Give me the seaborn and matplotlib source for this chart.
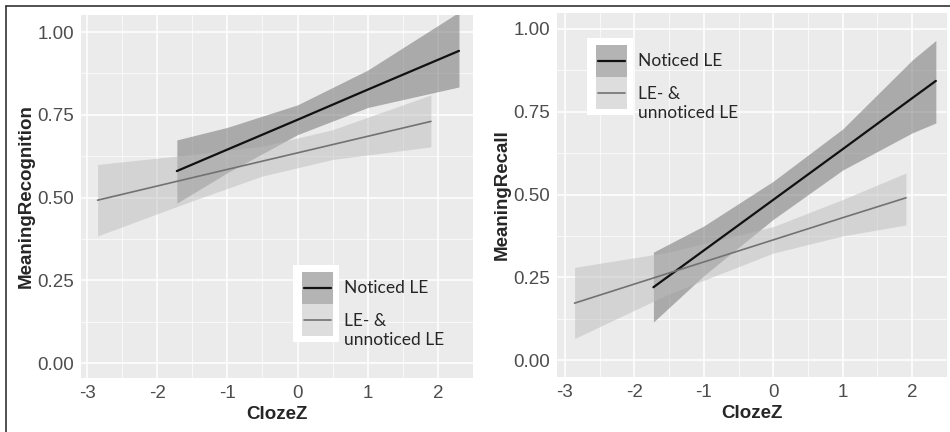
import numpy as np
import pandas as pd
import seaborn as sns
import matplotlib.pyplot as plt
from matplotlib.lines import Line2D
from matplotlib.patches import Rectangle

sns.set_theme(style="darkgrid")
plt.rcParams["font.family"] = ["Liberation Sans", "DejaVu Sans"]
plt.rcParams["axes.unicode_minus"] = False

groups = ["Noticed LE", "LE- &\nunnoticed LE"]

# Meaning recognition (left panel)
rec_noticed_x = [-1.72, -1.0, 0.0, 1.0, 2.30]
rec_noticed_fit = [0.580, 0.645, 0.735, 0.826, 0.943]
rec_noticed_lo = [0.483, 0.575, 0.690, 0.772, 0.834]
rec_noticed_hi = [0.674, 0.712, 0.780, 0.885, 1.060]

rec_other_x = [-2.85, -1.5, -0.5, 0.5, 1.90]
rec_other_fit = [0.492, 0.560, 0.610, 0.660, 0.730]
rec_other_lo = [0.384, 0.490, 0.565, 0.615, 0.653]
rec_other_hi = [0.600, 0.630, 0.655, 0.705, 0.810]

# Meaning recall (right panel)
cal_noticed_x = [-1.725, -1.0, 0.0, 1.0, 2.0, 2.34]
cal_noticed_fit = [0.220, 0.331, 0.484, 0.637, 0.791, 0.843]
cal_noticed_lo = [0.115, 0.255, 0.425, 0.574, 0.686, 0.716]
cal_noticed_hi = [0.326, 0.405, 0.540, 0.698, 0.906, 0.965]

cal_other_x = [-2.86, -1.5, 0.0, 1.0, 1.91]
cal_other_fit = [0.172, 0.263, 0.363, 0.430, 0.490]
cal_other_lo = [0.065, 0.200, 0.323, 0.375, 0.408]
cal_other_hi = [0.280, 0.326, 0.403, 0.485, 0.565]

line_colors = ["#111111", "#727272"]
line_widths = [1.6, 1.2]
band_colors = ["#6a6a6a", "#bdbdbd"]

W, H = 950, 432
fig = plt.figure(figsize=(W / 100, H / 100), dpi=100)
ax1 = fig.add_axes([0.0853, 0.125, 0.4126, 0.840])
ax2 = fig.add_axes([0.5863, 0.1273, 0.4105, 0.8426])


def panel(ax, series, ylabel, xlim, ylim):
    frames = []
    for i, (x, fit, lo, hi) in enumerate(series):
        ax.fill_between(x, lo, hi, color=band_colors[i], alpha=0.5, lw=0, zorder=1)
        frames.append(pd.DataFrame({"ClozeZ": x, "fit": fit, "group": groups[i]}))
    df = pd.concat(frames)
    sns.lineplot(data=df, x="ClozeZ", y="fit", hue="group", palette=line_colors,
                 legend=False, ax=ax, zorder=3)
    for line, lw in zip(ax.lines, line_widths):
        line.set_linewidth(lw)
    ax.set_facecolor("#ebebeb")
    ax.set_xlim(*xlim)
    ax.set_ylim(*ylim)
    ax.set_xticks([-3, -2, -1, 0, 1, 2])
    ax.set_xticks(np.arange(-2.5, 2.6, 1.0), minor=True)
    ax.set_yticks([0, 0.25, 0.5, 0.75, 1.0])
    ax.set_yticklabels(["0.00", "0.25", "0.50", "0.75", "1.00"])
    ax.set_yticks([0.125, 0.375, 0.625, 0.875], minor=True)
    ax.grid(which="major", color="white", linewidth=1.1)
    ax.grid(which="minor", color="white", linewidth=0.5)
    ax.tick_params(which="major", length=3, width=0.8, color="#555555",
                   labelsize=13.5, labelcolor="#4d4d4d", pad=2)
    ax.tick_params(which="minor", length=0)
    for s in ax.spines.values():
        s.set_visible(False)
    ax.set_xlabel("ClozeZ", fontsize=13.5, fontweight="bold", labelpad=3)
    ax.set_ylabel(ylabel, fontsize=13.5, fontweight="bold", labelpad=2)


panel(ax1, [(rec_noticed_x, rec_noticed_fit, rec_noticed_lo, rec_noticed_hi),
            (rec_other_x, rec_other_fit, rec_other_lo, rec_other_hi)],
      "MeaningRecognition", (-3.085, 2.437), (-0.045, 1.051))
panel(ax2, [(cal_noticed_x, cal_noticed_fit, cal_noticed_lo, cal_noticed_hi),
            (cal_other_x, cal_other_fit, cal_other_lo, cal_other_hi)],
      "MeaningRecall", (-3.113, 2.41), (-0.051, 1.048))


def f(px, py):
    return px / W, 1 - py / H


def legend(bx, by):
    # white box round the keys only, text sits on the panel
    tr = fig.transFigure
    x0, y0 = f(bx, by + 77)
    fig.patches.append(Rectangle((x0, y0), 46 / W, 77 / H, transform=tr,
                                 facecolor="white", edgecolor="none", zorder=5))
    for i in range(2):
        kx, ky = f(bx + 9, by + 7 + 32 * (i + 1))
        fig.patches.append(Rectangle((kx, ky), 31 / W, 32 / H, transform=tr,
                                     facecolor=band_colors[i], alpha=0.5,
                                     edgecolor="none", zorder=6))
        lx0, ly = f(bx + 11, by + 23 + 32 * i)
        lx1, _ = f(bx + 38, 0)
        fig.lines.append(Line2D([lx0, lx1], [ly, ly], transform=tr,
                                color=line_colors[i], lw=line_widths[i], zorder=7))
    tx, ty = f(bx + 51, by + 23)
    fig.text(tx, ty, groups[0], fontsize=12.5, va="center", ha="left",
             family=["Lato", "DejaVu Sans"], zorder=8)
    tx, ty = f(bx + 51, by + 48)
    fig.text(tx, ty, groups[1], fontsize=12.5, va="top", ha="left",
             family=["Lato", "DejaVu Sans"], linespacing=1.25, zorder=8)


legend(293, 265)
legend(587, 38)

# outer frame of the screenshot
fig.lines.append(Line2D([6 / W, 6 / W], [0, 1 - 6 / H], transform=fig.transFigure,
                        color="#333333", lw=1.2))
fig.lines.append(Line2D([6 / W, 1], [1 - 6 / H, 1 - 6 / H], transform=fig.transFigure,
                        color="#333333", lw=1.2))

fig.savefig("out.png", dpi=100, facecolor="white")
